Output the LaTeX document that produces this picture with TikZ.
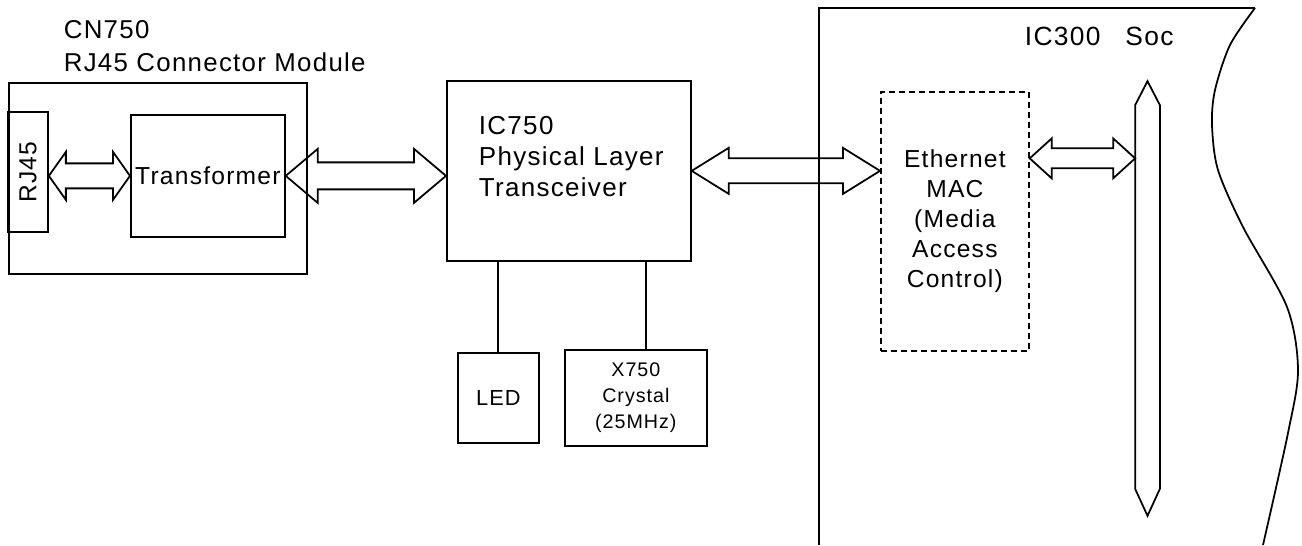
\documentclass[tikz,border=0pt]{standalone}
\usepackage{fontspec}
\setmainfont{Liberation Sans}[LetterSpace=5]
\usetikzlibrary{calc, positioning}

% hollow double-headed bus arrow: #1,#2 ends, #3 shaft half width, #4 head half width, #5 head length
\newcommand{\widearrow}[5]{%
  \draw (#1) -- ($(#1)+(#5,#4)$) -- ($(#1)+(#5,#3)$) -- ($(#2)+(-#5,#3)$) -- ($(#2)+(-#5,#4)$) -- (#2)
    -- ($(#2)+(-#5,-#4)$) -- ($(#2)+(-#5,-#3)$) -- ($(#1)+(#5,-#3)$) -- ($(#1)+(#5,-#4)$) -- cycle;}

\begin{document}
\begin{tikzpicture}[
  x=0.02cm, y=-0.02cm, line width=1pt,
  box/.style={draw, rectangle, inner sep=0pt, anchor=north west, align=center,
              font=\fontsize{14}{18}\selectfont},
  txt/.style={inner sep=0pt, align=left, font=\fontsize{14}{18.7}\selectfont}
]
\useasboundingbox (0,0) rectangle (1302,545);

% CN750 module
\node[txt, anchor=north west, font=\fontsize{14.7}{18.7}\selectfont] (cnlabel) at (63,20) {CN750\\RJ45 Connector Module};
\node[box, minimum width=5.96cm, minimum height=3.82cm] (cn750) at (8,82) {};
\node[box, anchor=center, rotate=90, minimum width=2.4cm, minimum height=0.8cm] (rj45) at (28,172) {RJ45};
\node[box, minimum width=3.08cm, minimum height=2.44cm] (trans) at (130,114) {Transformer};

% PHY
\node[box, minimum width=4.88cm, minimum height=3.6cm] (ic750) at (446,80) {};
\node[txt, anchor=north west, font=\fontsize{14.8}{17.9}\selectfont] (ic750txt) at (478,115)
  {IC750\\Physical Layer\\Transceiver};
\node[box, minimum width=1.62cm, minimum height=1.8cm, font=\fontsize{12.4}{15}\selectfont] (led) at (457,352) {LED};
\node[box, minimum width=2.84cm, minimum height=1.92cm, font=\fontsize{11.2}{14.7}\selectfont] (xtal) at (564,349)
  {X750\\Crystal\\(25MHz)};

% SoC
\draw (819,545) -- (819,8) -- (1255,8);
\draw plot[smooth] coordinates {(1255,8) (1230,45) (1215,90) (1212,125) (1218,170) (1243,227)
  (1287,307) (1298,370) (1288,433) (1263,545)};
\node[txt, anchor=base west, font=\fontsize{15}{17}\selectfont] (soc) at (1024,45) {IC300\hspace{0.5cm}Soc};
\node[box, dashed, dash pattern=on 3.4pt off 2.3pt, minimum width=2.96cm, minimum height=5.18cm,
      font=\fontsize{14}{17}\selectfont] (mac) at (880,91) {Ethernet\\MAC\\(Media\\Access\\Control)};
\node[inner sep=0pt, minimum width=0.46cm, minimum height=7.64cm] (bus) at (1147.5,297) {};
\draw (bus.north west) -- ([yshift=0.48cm]bus.north) -- (bus.north east) -- (bus.south east)
  -- ([yshift=-0.54cm]bus.south) -- (bus.south west) -- cycle;

% connections
\coordinate (a1) at (rj45.south |- trans.west);
\widearrow{a1}{trans.west}{12.5}{24}{17}
\coordinate (a2) at (trans.east -| ic750.west);
\widearrow{trans.east}{a2}{13.5}{27}{32}
\coordinate (a3) at (ic750.east -| mac.west);
\widearrow{ic750.east}{a3}{12.5}{23}{37}
\coordinate (a4) at ([yshift=1.26cm]mac.east);
\coordinate (a5) at (a4 -| bus.west);
\widearrow{a4}{a5}{10}{20}{22}

\draw (led.north) -- (led.north |- ic750.south);
\draw ([xshift=0.2cm]xtal.north) -- ([xshift=0.2cm]xtal.north |- ic750.south);
\end{tikzpicture}
\end{document}
